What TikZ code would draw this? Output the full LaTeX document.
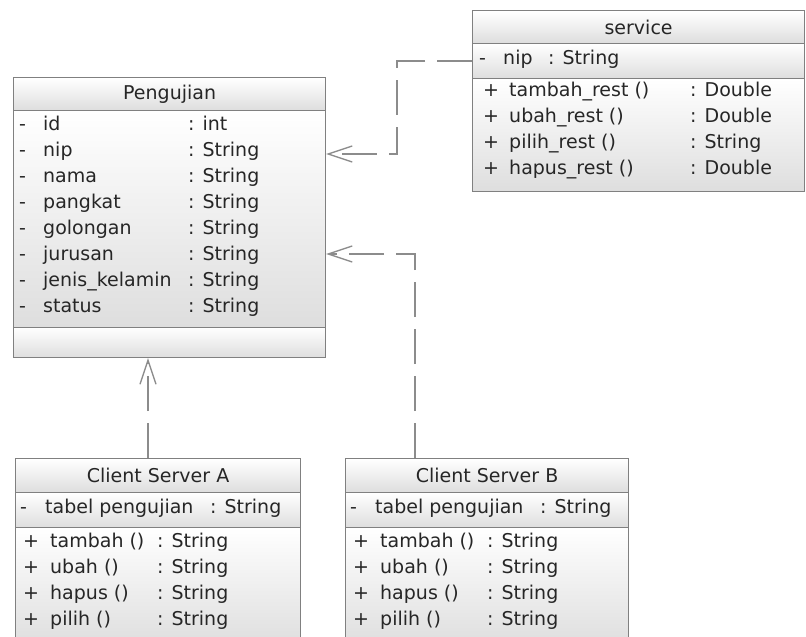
\documentclass[tikz,border=0pt]{standalone}
\usepackage{fontspec}
\setmainfont{DejaVu Sans}
\usetikzlibrary{arrows.meta}

\tikzset{
  cls/.style={draw=black!50, line width=1.2pt, top color=white,
    bottom color=black!13, inner sep=0pt, anchor=north west,
    font=\fontsize{19}{23}\selectfont, text=black!85},
  txt/.style={inner sep=0pt, anchor=mid west,
    font=\fontsize{19}{23}\selectfont, text=black!85},
  dep/.style={draw=black!45, line width=1.3pt, dash pattern=on 35pt off 12pt,
    -{Straight Barb[length=24pt,width=16pt]}}
}

\begin{document}
\begin{tikzpicture}[x=1pt,y=-1pt]
\useasboundingbox (0,0) rectangle (806,637);
\clip (0,0) rectangle (806,637);

% Pengujian
\node[cls,minimum width=312pt,minimum height=33pt] (peng-h) at (13,77) {Pengujian};
\node[cls,minimum width=312pt,minimum height=217pt] (peng-a) at (13,110) {};
\node[cls,minimum width=312pt,minimum height=30pt] (peng-m) at (13,327) {};
\foreach \nm/\ty [count=\i from 0] in {id/int, nip/String, nama/String,
    pangkat/String, golongan/String, jurusan/String,
    jenis\_kelamin/String, status/String}
  \path (19,128+26*\i) node[txt] {-}
        (43,128+26*\i) node[txt] {\nm}
        (188,128+26*\i) node[txt] {: \ty};

% service
\node[cls,minimum width=332pt,minimum height=33pt] (serv-h) at (472,10) {service};
\node[cls,minimum width=332pt,minimum height=35pt] (serv-a) at (472,43) {};
\node[cls,minimum width=332pt,minimum height=113pt] (serv-m) at (472,78) {};
\path (479,62) node[txt] {-}
      (503,62) node[txt] {nip}
      (548,62) node[txt] {: String};
\foreach \nm/\ty [count=\i from 0] in {tambah\_rest ()/Double,
    ubah\_rest ()/Double, pilih\_rest ()/String, hapus\_rest ()/Double}
  \path (483,94+26*\i) node[txt] {+}
        (509,94+26*\i) node[txt] {\nm}
        (690,94+26*\i) node[txt] {: \ty};

% Client Server A
\node[cls,minimum width=285pt,minimum height=34pt] (clia-h) at (15,458) {Client Server A};
\node[cls,minimum width=285pt,minimum height=35pt] (clia-a) at (15,492) {};
\node[cls,minimum width=285pt,minimum height=120pt] (clia-m) at (15,527) {};
\path (20,511) node[txt] {-}
      (45,511) node[txt] {tabel pengujian}
      (210,511) node[txt] {: String};
\foreach \nm [count=\i from 0] in {tambah (), ubah (), hapus (), pilih ()}
  \path (23,545+26*\i) node[txt] {+}
        (50,545+26*\i) node[txt] {\nm}
        (157,545+26*\i) node[txt] {: String};

% Client Server B
\node[cls,minimum width=283pt,minimum height=34pt] (clib-h) at (345,458) {Client Server B};
\node[cls,minimum width=283pt,minimum height=35pt] (clib-a) at (345,492) {};
\node[cls,minimum width=283pt,minimum height=120pt] (clib-m) at (345,527) {};
\path (350,511) node[txt] {-}
      (375,511) node[txt] {tabel pengujian}
      (540,511) node[txt] {: String};
\foreach \nm [count=\i from 0] in {tambah (), ubah (), hapus (), pilih ()}
  \path (353,545+26*\i) node[txt] {+}
        (380,545+26*\i) node[txt] {\nm}
        (487,545+26*\i) node[txt] {: String};

% dependencies
\coordinate (k1) at (397,154);
\coordinate (k2) at (415,254);
\coordinate (k3) at (148,400);
\draw[dep] (serv-a.west) -| (k1) -- (k1 -| peng-a.east);
\draw[dep] (k2 |- clib-h.north) -- (k2) -- (k2 -| peng-a.east);
\draw[dep] (k3 |- clia-h.north) -- (k3 |- peng-m.south);
\end{tikzpicture}
\end{document}
